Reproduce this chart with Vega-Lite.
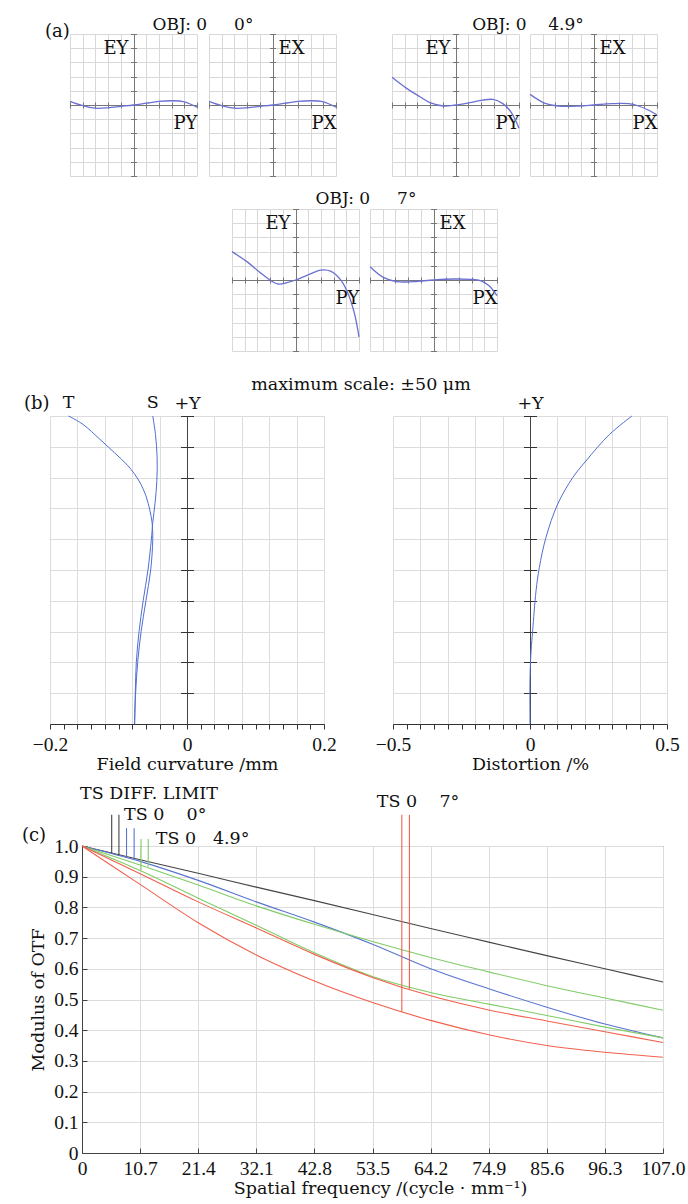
{
  "$schema": "https://vega.github.io/schema/vega-lite/v6.json",
  "padding": 0,
  "autosize": {"type": "pad"},
  "background": "white",
  "spacing": 0,
  "datasets": {
    "ey0": [{"p":-1,"e":0.05},{"p":-0.8,"e":-0.01},{"p":-0.6,"e":-0.045},{"p":-0.4,"e":-0.04},{"p":-0.2,"e":-0.02},{"p":0,"e":0},{"p":0.2,"e":0.025},{"p":0.4,"e":0.05},{"p":0.6,"e":0.06},{"p":0.8,"e":0.045},{"p":1,"e":-0.03}],
    "ex0": [{"p":-1,"e":0.05},{"p":-0.8,"e":-0.01},{"p":-0.6,"e":-0.045},{"p":-0.4,"e":-0.04},{"p":-0.2,"e":-0.02},{"p":0,"e":0},{"p":0.2,"e":0.025},{"p":0.4,"e":0.05},{"p":0.6,"e":0.06},{"p":0.8,"e":0.045},{"p":1,"e":-0.03}],
    "ey49": [{"p":-1,"e":0.39},{"p":-0.77,"e":0.234},{"p":-0.56,"e":0.117},{"p":-0.4,"e":0.033},{"p":-0.19,"e":-0.014},{"p":0,"e":0},{"p":0.22,"e":0.033},{"p":0.43,"e":0.07},{"p":0.59,"e":0.079},{"p":0.74,"e":0.023},{"p":0.85,"e":-0.07},{"p":0.93,"e":-0.187},{"p":1,"e":-0.327}],
    "ex49": [{"p":-1,"e":0.15},{"p":-0.76,"e":0.023},{"p":-0.55,"e":-0.014},{"p":-0.23,"e":-0.014},{"p":0,"e":0},{"p":0.29,"e":0.019},{"p":0.55,"e":0.019},{"p":0.71,"e":-0.014},{"p":0.86,"e":-0.07},{"p":1,"e":-0.14}],
    "ey7": [{"p":-1,"e":0.4},{"p":-0.75,"e":0.248},{"p":-0.54,"e":0.093},{"p":-0.28,"e":-0.056},{"p":-0.12,"e":-0.033},{"p":0,"e":0},{"p":0.19,"e":0.07},{"p":0.4,"e":0.14},{"p":0.56,"e":0.121},{"p":0.72,"e":-0.009},{"p":0.83,"e":-0.196},{"p":0.93,"e":-0.477},{"p":1,"e":-0.8}],
    "ex7": [{"p":-1,"e":0.187},{"p":-0.79,"e":0.037},{"p":-0.58,"e":-0.023},{"p":-0.32,"e":-0.023},{"p":0,"e":0},{"p":0.32,"e":0.014},{"p":0.58,"e":0.009},{"p":0.74,"e":-0.009},{"p":0.87,"e":-0.079},{"p":1,"e":-0.22}],
    "fc": [
      {"s":"T","f":1.0,"x":-0.173},{"s":"T","f":0.973,"x":-0.152},{"s":"T","f":0.924,"x":-0.127},{"s":"T","f":0.881,"x":-0.106},{"s":"T","f":0.838,"x":-0.086},{"s":"T","f":0.789,"x":-0.07},{"s":"T","f":0.741,"x":-0.06},{"s":"T","f":0.692,"x":-0.054},{"s":"T","f":0.654,"x":-0.051},{"s":"T","f":0.6,"x":-0.05},{"s":"T","f":0.5,"x":-0.053},{"s":"T","f":0.4,"x":-0.06},{"s":"T","f":0.3,"x":-0.067},{"s":"T","f":0.2,"x":-0.072},{"s":"T","f":0.1,"x":-0.075},{"s":"T","f":0.0,"x":-0.0765},
      {"s":"S","f":1.0,"x":-0.05},{"s":"S","f":0.94,"x":-0.046},{"s":"S","f":0.865,"x":-0.0436},{"s":"S","f":0.79,"x":-0.044},{"s":"S","f":0.72,"x":-0.0465},{"s":"S","f":0.654,"x":-0.05},{"s":"S","f":0.6,"x":-0.052},{"s":"S","f":0.5,"x":-0.057},{"s":"S","f":0.4,"x":-0.064},{"s":"S","f":0.3,"x":-0.07},{"s":"S","f":0.2,"x":-0.074},{"s":"S","f":0.1,"x":-0.0755},{"s":"S","f":0.0,"x":-0.0765}
    ],
    "dist": [{"f":0,"x":0},{"f":0.151,"x":0.0},{"f":0.238,"x":0.004},{"f":0.303,"x":0.0097},{"f":0.432,"x":0.022},{"f":0.508,"x":0.034},{"f":0.605,"x":0.058},{"f":0.714,"x":0.101},{"f":0.8,"x":0.156},{"f":0.854,"x":0.204},{"f":0.94,"x":0.29},{"f":1.0,"x":0.372}],
    "mtf": [
      {"c":"diff","id":"d","f":0,"m":1},{"c":"diff","id":"d","f":10.7,"m":0.955},{"c":"diff","id":"d","f":21.4,"m":0.911},{"c":"diff","id":"d","f":32.1,"m":0.866},{"c":"diff","id":"d","f":42.8,"m":0.822},{"c":"diff","id":"d","f":53.5,"m":0.777},{"c":"diff","id":"d","f":64.2,"m":0.731},{"c":"diff","id":"d","f":74.9,"m":0.687},{"c":"diff","id":"d","f":85.6,"m":0.643},{"c":"diff","id":"d","f":96.3,"m":0.6},{"c":"diff","id":"d","f":107,"m":0.557},
      {"c":"blue","id":"b","f":0,"m":1},{"c":"blue","id":"b","f":10.7,"m":0.95},{"c":"blue","id":"b","f":21.4,"m":0.888},{"c":"blue","id":"b","f":32.1,"m":0.818},{"c":"blue","id":"b","f":42.8,"m":0.752},{"c":"blue","id":"b","f":53.5,"m":0.68},{"c":"blue","id":"b","f":64.2,"m":0.6},{"c":"blue","id":"b","f":74.9,"m":0.535},{"c":"blue","id":"b","f":85.6,"m":0.475},{"c":"blue","id":"b","f":96.3,"m":0.42},{"c":"blue","id":"b","f":107,"m":0.375},
      {"c":"green","id":"g1","f":0,"m":1},{"c":"green","id":"g1","f":10.7,"m":0.938},{"c":"green","id":"g1","f":21.4,"m":0.873},{"c":"green","id":"g1","f":32.1,"m":0.805},{"c":"green","id":"g1","f":42.8,"m":0.745},{"c":"green","id":"g1","f":53.5,"m":0.689},{"c":"green","id":"g1","f":64.2,"m":0.637},{"c":"green","id":"g1","f":74.9,"m":0.59},{"c":"green","id":"g1","f":85.6,"m":0.545},{"c":"green","id":"g1","f":96.3,"m":0.505},{"c":"green","id":"g1","f":107,"m":0.465},
      {"c":"green","id":"g2","f":0,"m":1},{"c":"green","id":"g2","f":10.7,"m":0.92},{"c":"green","id":"g2","f":21.4,"m":0.83},{"c":"green","id":"g2","f":32.1,"m":0.742},{"c":"green","id":"g2","f":42.8,"m":0.652},{"c":"green","id":"g2","f":53.5,"m":0.575},{"c":"green","id":"g2","f":64.2,"m":0.523},{"c":"green","id":"g2","f":74.9,"m":0.485},{"c":"green","id":"g2","f":85.6,"m":0.448},{"c":"green","id":"g2","f":96.3,"m":0.41},{"c":"green","id":"g2","f":107,"m":0.375},
      {"c":"red","id":"r1","f":0,"m":1},{"c":"red","id":"r1","f":10.7,"m":0.91},{"c":"red","id":"r1","f":21.4,"m":0.818},{"c":"red","id":"r1","f":32.1,"m":0.733},{"c":"red","id":"r1","f":42.8,"m":0.647},{"c":"red","id":"r1","f":53.5,"m":0.572},{"c":"red","id":"r1","f":64.2,"m":0.512},{"c":"red","id":"r1","f":74.9,"m":0.466},{"c":"red","id":"r1","f":85.6,"m":0.43},{"c":"red","id":"r1","f":96.3,"m":0.395},{"c":"red","id":"r1","f":107,"m":0.36},
      {"c":"red","id":"r2","f":0,"m":1},{"c":"red","id":"r2","f":10.7,"m":0.875},{"c":"red","id":"r2","f":21.4,"m":0.75},{"c":"red","id":"r2","f":32.1,"m":0.645},{"c":"red","id":"r2","f":42.8,"m":0.56},{"c":"red","id":"r2","f":53.5,"m":0.49},{"c":"red","id":"r2","f":64.2,"m":0.432},{"c":"red","id":"r2","f":74.9,"m":0.385},{"c":"red","id":"r2","f":85.6,"m":0.35},{"c":"red","id":"r2","f":96.3,"m":0.328},{"c":"red","id":"r2","f":107,"m":0.312}
    ],
    "mtfkey": [
      {"c":"diff","f":5.47,"top":1.102,"bot":0.976},{"c":"diff","f":6.8,"top":1.102,"bot":0.97},
      {"c":"blue","f":8.2,"top":1.058,"bot":0.962},{"c":"blue","f":9.6,"top":1.058,"bot":0.956},
      {"c":"green","f":10.87,"top":1.023,"bot":0.922},{"c":"green","f":12.2,"top":1.023,"bot":0.933},
      {"c":"red","f":58.9,"top":1.102,"bot":0.46},{"c":"red","f":60.3,"top":1.102,"bot":0.534}
    ],
    "mtflab": [
      {"label":"TS DIFF. LIMIT","f":-0.37,"v":1.169},
      {"label":"TS 0\u00a0\u00a0\u00a0\u00a00°","f":7.73,"v":1.101},
      {"label":"TS 0\u00a0\u00a0\u00a04.9°","f":13.6,"v":1.023},
      {"label":"TS 0\u00a0\u00a0\u00a0\u00a07°","f":54.3,"v":1.143}
    ]
  },
  "vconcat": [
    {"width": 1, "height": 15, "mark": "point", "data": {"values": []}},
    {"spacing": 0, "bounds": "flush",
     "hconcat": [
      {"width": 70, "height": 156, "mark": "point", "data": {"values": []},
       "title": {"text": "(a)", "anchor": "start", "dx": 45, "offset": -15.5, "baseline": "middle", "fontSize": 18}},
      {"width": 127, "height": 142, "data": {"name": "ey0"},
       "mark": {"type": "line", "interpolate": "catmull-rom", "color": "#6b70d2", "strokeWidth": 1.3},
       "encoding": {
         "x": {"field": "p", "type": "quantitative", "scale": {"domain": [-1, 1], "nice": false, "zero": false},
               "axis": {"values": [-1,-0.8,-0.6,-0.4,-0.2,0,0.2,0.4,0.6,0.8,1], "grid": true, "gridColor": {"condition": {"test": "datum.value == 0", "value": "#777"}, "value": "#d8d8d8"}, "labels": false, "domain": false, "tickSize": 6, "tickColor": "#777", "offset": -74, "title": "PY", "titleX": 127, "titleY": 21, "titleAlign": "right", "titleBaseline": "middle", "titleAngle": 0, "titleFontSize": 18}},
         "y": {"field": "e", "type": "quantitative", "scale": {"domain": [-1, 1], "nice": false, "zero": false},
               "axis": {"values": [-1,-0.8,-0.6,-0.4,-0.2,0,0.2,0.4,0.6,0.8,1], "grid": true, "gridColor": {"condition": {"test": "datum.value == 0", "value": "#777"}, "value": "#d8d8d8"}, "labels": false, "domain": false, "tickSize": 6, "tickColor": "#777", "offset": -66.5, "title": "EY", "titleX": -8.5, "titleY": 14, "titleAlign": "right", "titleBaseline": "middle", "titleAngle": 0, "titleFontSize": 18}}
       }},
      {"width": 12, "height": 1, "mark": "point", "data": {"values": []},
       "title": {"text": "OBJ: 0\u00a0\u00a0\u00a0\u00a0\u00a00°", "anchor": "middle", "offset": -7.5, "baseline": "middle", "fontSize": 17}},
      {"width": 127, "height": 142, "data": {"name": "ex0"},
       "mark": {"type": "line", "interpolate": "catmull-rom", "color": "#6b70d2", "strokeWidth": 1.3},
       "encoding": {
         "x": {"field": "p", "type": "quantitative", "scale": {"domain": [-1, 1], "nice": false, "zero": false},
               "axis": {"values": [-1,-0.8,-0.6,-0.4,-0.2,0,0.2,0.4,0.6,0.8,1], "grid": true, "gridColor": {"condition": {"test": "datum.value == 0", "value": "#777"}, "value": "#d8d8d8"}, "labels": false, "domain": false, "tickSize": 6, "tickColor": "#777", "offset": -74, "title": "PX", "titleX": 127, "titleY": 21, "titleAlign": "right", "titleBaseline": "middle", "titleAngle": 0, "titleFontSize": 18}},
         "y": {"field": "e", "type": "quantitative", "scale": {"domain": [-1, 1], "nice": false, "zero": false},
               "axis": {"values": [-1,-0.8,-0.6,-0.4,-0.2,0,0.2,0.4,0.6,0.8,1], "grid": true, "gridColor": {"condition": {"test": "datum.value == 0", "value": "#777"}, "value": "#d8d8d8"}, "labels": false, "domain": false, "tickSize": 6, "tickColor": "#777", "offset": -66.5, "title": "EX", "titleX": 2.5, "titleY": 14, "titleAlign": "left", "titleBaseline": "middle", "titleAngle": 0, "titleFontSize": 18}}
       }},
      {"width": 56, "height": 1, "mark": "point", "data": {"values": []}},
      {"width": 127, "height": 142, "data": {"name": "ey49"},
       "mark": {"type": "line", "interpolate": "catmull-rom", "color": "#6b70d2", "strokeWidth": 1.3},
       "encoding": {
         "x": {"field": "p", "type": "quantitative", "scale": {"domain": [-1, 1], "nice": false, "zero": false},
               "axis": {"values": [-1,-0.8,-0.6,-0.4,-0.2,0,0.2,0.4,0.6,0.8,1], "grid": true, "gridColor": {"condition": {"test": "datum.value == 0", "value": "#777"}, "value": "#d8d8d8"}, "labels": false, "domain": false, "tickSize": 6, "tickColor": "#777", "offset": -74, "title": "PY", "titleX": 127, "titleY": 21, "titleAlign": "right", "titleBaseline": "middle", "titleAngle": 0, "titleFontSize": 18}},
         "y": {"field": "e", "type": "quantitative", "scale": {"domain": [-1, 1], "nice": false, "zero": false},
               "axis": {"values": [-1,-0.8,-0.6,-0.4,-0.2,0,0.2,0.4,0.6,0.8,1], "grid": true, "gridColor": {"condition": {"test": "datum.value == 0", "value": "#777"}, "value": "#d8d8d8"}, "labels": false, "domain": false, "tickSize": 6, "tickColor": "#777", "offset": -66.5, "title": "EY", "titleX": -8.5, "titleY": 14, "titleAlign": "right", "titleBaseline": "middle", "titleAngle": 0, "titleFontSize": 18}}
       }},
      {"width": 11, "height": 1, "mark": "point", "data": {"values": []},
       "title": {"text": "OBJ: 0\u00a0\u00a0\u00a0\u00a04.9°", "anchor": "middle", "dx": 3.5, "offset": -7.5, "baseline": "middle", "fontSize": 17}},
      {"width": 127, "height": 142, "data": {"name": "ex49"},
       "mark": {"type": "line", "interpolate": "catmull-rom", "color": "#6b70d2", "strokeWidth": 1.3},
       "encoding": {
         "x": {"field": "p", "type": "quantitative", "scale": {"domain": [-1, 1], "nice": false, "zero": false},
               "axis": {"values": [-1,-0.8,-0.6,-0.4,-0.2,0,0.2,0.4,0.6,0.8,1], "grid": true, "gridColor": {"condition": {"test": "datum.value == 0", "value": "#777"}, "value": "#d8d8d8"}, "labels": false, "domain": false, "tickSize": 6, "tickColor": "#777", "offset": -74, "title": "PX", "titleX": 127, "titleY": 21, "titleAlign": "right", "titleBaseline": "middle", "titleAngle": 0, "titleFontSize": 18}},
         "y": {"field": "e", "type": "quantitative", "scale": {"domain": [-1, 1], "nice": false, "zero": false},
               "axis": {"values": [-1,-0.8,-0.6,-0.4,-0.2,0,0.2,0.4,0.6,0.8,1], "grid": true, "gridColor": {"condition": {"test": "datum.value == 0", "value": "#777"}, "value": "#d8d8d8"}, "labels": false, "domain": false, "tickSize": 6, "tickColor": "#777", "offset": -66.5, "title": "EX", "titleX": 2.5, "titleY": 14, "titleAlign": "left", "titleBaseline": "middle", "titleAngle": 0, "titleFontSize": 18}}
       }}
     ]},
    {"spacing": 0, "bounds": "flush",
     "hconcat": [
      {"width": 232, "height": 166, "mark": "point", "data": {"values": []}},
      {"width": 127, "height": 142, "data": {"name": "ey7"},
       "mark": {"type": "line", "interpolate": "catmull-rom", "color": "#6b70d2", "strokeWidth": 1.3},
       "encoding": {
         "x": {"field": "p", "type": "quantitative", "scale": {"domain": [-1, 1], "nice": false, "zero": false},
               "axis": {"values": [-1,-0.8,-0.6,-0.4,-0.2,0,0.2,0.4,0.6,0.8,1], "grid": true, "gridColor": {"condition": {"test": "datum.value == 0", "value": "#777"}, "value": "#d8d8d8"}, "labels": false, "domain": false, "tickSize": 6, "tickColor": "#777", "offset": -74, "title": "PY", "titleX": 127, "titleY": 21, "titleAlign": "right", "titleBaseline": "middle", "titleAngle": 0, "titleFontSize": 18}},
         "y": {"field": "e", "type": "quantitative", "scale": {"domain": [-1, 1], "nice": false, "zero": false},
               "axis": {"values": [-1,-0.8,-0.6,-0.4,-0.2,0,0.2,0.4,0.6,0.8,1], "grid": true, "gridColor": {"condition": {"test": "datum.value == 0", "value": "#777"}, "value": "#d8d8d8"}, "labels": false, "domain": false, "tickSize": 6, "tickColor": "#777", "offset": -66.5, "title": "EY", "titleX": -8.5, "titleY": 14, "titleAlign": "right", "titleBaseline": "middle", "titleAngle": 0, "titleFontSize": 18}}
       }},
      {"width": 11, "height": 1, "mark": "point", "data": {"values": []},
       "title": {"text": "OBJ: 0\u00a0\u00a0\u00a0\u00a0\u00a07°", "anchor": "middle", "dx": 1.5, "offset": -7, "baseline": "middle", "fontSize": 17}},
      {"width": 127, "height": 142, "data": {"name": "ex7"},
       "mark": {"type": "line", "interpolate": "catmull-rom", "color": "#6b70d2", "strokeWidth": 1.3},
       "encoding": {
         "x": {"field": "p", "type": "quantitative", "scale": {"domain": [-1, 1], "nice": false, "zero": false},
               "axis": {"values": [-1,-0.8,-0.6,-0.4,-0.2,0,0.2,0.4,0.6,0.8,1], "grid": true, "gridColor": {"condition": {"test": "datum.value == 0", "value": "#777"}, "value": "#d8d8d8"}, "labels": false, "domain": false, "tickSize": 6, "tickColor": "#777", "offset": -74, "title": "PX", "titleX": 127, "titleY": 21, "titleAlign": "right", "titleBaseline": "middle", "titleAngle": 0, "titleFontSize": 18}},
         "y": {"field": "e", "type": "quantitative", "scale": {"domain": [-1, 1], "nice": false, "zero": false},
               "axis": {"values": [-1,-0.8,-0.6,-0.4,-0.2,0,0.2,0.4,0.6,0.8,1], "grid": true, "gridColor": {"condition": {"test": "datum.value == 0", "value": "#777"}, "value": "#d8d8d8"}, "labels": false, "domain": false, "tickSize": 6, "tickColor": "#777", "offset": -66.5, "title": "EX", "titleX": 2.5, "titleY": 14, "titleAlign": "left", "titleBaseline": "middle", "titleAngle": 0, "titleFontSize": 18}}
       }}
     ]},
    {"spacing": 0, "bounds": "flush",
     "hconcat": [
      {"width": 50, "height": 368, "mark": "point", "data": {"values": []},
       "title": {"text": "(b)", "anchor": "start", "dx": 24, "offset": -6, "baseline": "middle", "fontSize": 18}},
      {"width": 274, "height": 308,
       "layer": [
         {"data": {"name": "fc"},
          "mark": {"type": "line", "interpolate": "catmull-rom", "color": "#4f6fd0", "strokeWidth": 1},
          "encoding": {
            "x": {"field": "x", "type": "quantitative", "scale": {"domain": [-0.2, 0.2], "nice": false, "zero": false},
                  "axis": {"values": [-0.2,-0.18,-0.16,-0.14,-0.12,-0.1,-0.08,-0.06,-0.04,-0.02,0,0.02,0.04,0.06,0.08,0.1,0.12,0.14,0.16,0.18,0.2],
                           "grid": true, "gridColor": {"condition": {"test": "abs(datum.value) < 1e-9", "value": "#444"}, "value": "#dcdcdc"},
                           "gridOpacity": {"condition": {"test": "abs(round(datum.value*50)) % 2 == 1", "value": 0}, "value": 1},
                           "domain": true, "domainColor": "#333", "tickSize": 5, "tickColor": "#333", "labelPadding": 6,
                           "labelExpr": "datum.value < -0.19 ? '−0.2' : datum.value > 0.19 ? '0.2' : abs(datum.value) < 1e-9 ? '0' : ''",
                           "title": "Field curvature /mm", "titlePadding": 2}},
            "y": {"field": "f", "type": "quantitative", "scale": {"domain": [0, 1], "nice": false, "zero": false},
                  "axis": {"values": [0,0.1,0.2,0.3,0.4,0.5,0.6,0.7,0.8,0.9,1], "grid": true, "gridColor": "#dcdcdc",
                           "domain": false, "labels": false, "tickSize": 13, "tickColor": "#333", "offset": -143.5,
                           "title": "+Y", "titleX": -6.5, "titleY": -13, "titleAlign": "center", "titleBaseline": "middle", "titleAngle": 0}},
            "detail": {"field": "s"},
            "order": {"field": "f", "type": "quantitative"}
          }},
         {"data": {"name": "fc"},
          "transform": [{"filter": "datum.f == 1"}],
          "mark": {"type": "text", "dy": -13, "align": "center", "baseline": "middle", "fontSize": 17.5},
          "encoding": {
            "x": {"field": "x", "type": "quantitative", "scale": {"domain": [-0.2, 0.2], "nice": false, "zero": false},
                  "axis": {"values": [-0.2,-0.18,-0.16,-0.14,-0.12,-0.1,-0.08,-0.06,-0.04,-0.02,0,0.02,0.04,0.06,0.08,0.1,0.12,0.14,0.16,0.18,0.2],
                           "grid": true, "gridColor": {"condition": {"test": "abs(datum.value) < 1e-9", "value": "#444"}, "value": "#dcdcdc"},
                           "gridOpacity": {"condition": {"test": "abs(round(datum.value*50)) % 2 == 1", "value": 0}, "value": 1},
                           "domain": true, "domainColor": "#333", "tickSize": 5, "tickColor": "#333", "labelPadding": 6,
                           "labelExpr": "datum.value < -0.19 ? '−0.2' : datum.value > 0.19 ? '0.2' : abs(datum.value) < 1e-9 ? '0' : ''",
                           "title": "Field curvature /mm", "titlePadding": 2}},
            "y": {"field": "f", "type": "quantitative", "scale": {"domain": [0, 1], "nice": false, "zero": false},
                  "axis": {"values": [0,0.1,0.2,0.3,0.4,0.5,0.6,0.7,0.8,0.9,1], "grid": true, "gridColor": "#dcdcdc",
                           "domain": false, "labels": false, "tickSize": 13, "tickColor": "#333", "offset": -143.5,
                           "title": "+Y", "titleX": -6.5, "titleY": -13, "titleAlign": "center", "titleBaseline": "middle", "titleAngle": 0}},
            "text": {"field": "s"}
          }}
       ]},
      {"width": 69, "height": 1, "mark": "point", "data": {"values": []},
       "title": {"text": "maximum scale: ±50 μm", "anchor": "middle", "dx": 2.5, "offset": 14, "baseline": "middle", "fontSize": 17.5}},
      {"width": 274, "height": 308, "data": {"name": "dist"},
       "mark": {"type": "line", "interpolate": "catmull-rom", "color": "#4f6fd0", "strokeWidth": 1},
       "encoding": {
         "x": {"field": "x", "type": "quantitative", "scale": {"domain": [-0.5, 0.5], "nice": false, "zero": false},
               "axis": {"values": [-0.5,-0.45,-0.4,-0.35,-0.3,-0.25,-0.2,-0.15,-0.1,-0.05,0,0.05,0.1,0.15,0.2,0.25,0.3,0.35,0.4,0.45,0.5],
                        "grid": true, "gridColor": {"condition": {"test": "abs(datum.value) < 1e-9", "value": "#444"}, "value": "#dcdcdc"},
                        "gridOpacity": {"condition": {"test": "abs(round(datum.value*20)) % 2 == 1", "value": 0}, "value": 1},
                        "domain": true, "domainColor": "#333", "tickSize": 5, "tickColor": "#333", "labelPadding": 6,
                        "labelExpr": "datum.value < -0.49 ? '−0.5' : datum.value > 0.49 ? '0.5' : abs(datum.value) < 1e-9 ? '0' : ''",
                        "title": "Distortion /%", "titlePadding": 2}},
         "y": {"field": "f", "type": "quantitative", "scale": {"domain": [0, 1], "nice": false, "zero": false},
               "axis": {"values": [0,0.1,0.2,0.3,0.4,0.5,0.6,0.7,0.8,0.9,1], "grid": true, "gridColor": "#dcdcdc",
                        "domain": false, "labels": false, "tickSize": 13, "tickColor": "#333", "offset": -143.5,
                        "title": "+Y", "titleX": -6.5, "titleY": -13, "titleAlign": "center", "titleBaseline": "middle", "titleAngle": 0}},
         "order": {"field": "f", "type": "quantitative"}
       }}
     ]},
    {"spacing": 0, "bounds": "flush",
     "hconcat": [
      {"width": 82, "height": 307, "mark": "point", "data": {"values": []},
       "title": {"text": "(c)", "anchor": "start", "dx": 22, "offset": -8, "baseline": "middle", "fontSize": 18}},
      {"width": 581, "height": 307,
       "view": {"stroke": "#444", "strokeWidth": 1},
       "layer": [
         {"data": {"name": "mtf"},
          "mark": {"type": "line", "interpolate": "monotone", "strokeWidth": 1.1},
          "encoding": {
            "x": {"field": "f", "type": "quantitative", "scale": {"domain": [0, 107], "nice": false, "zero": false},
                  "axis": {"values": [0,10.7,21.4,32.1,42.8,53.5,64.2,74.9,85.6,96.3,107], "grid": true, "gridColor": "#dcdcdc",
                           "domain": true, "domainColor": "#444", "tickSize": -5, "tickColor": "#444", "labelPadding": 11,
                           "labelExpr": "datum.value == 0 ? '0' : format(datum.value, '.1f')",
                           "title": "Spatial frequency /(cycle · mm⁻¹)", "titlePadding": 2, "titleX": 298}},
            "y": {"field": "m", "type": "quantitative", "scale": {"domain": [0, 1], "nice": false, "zero": false},
                  "axis": {"values": [0,0.1,0.2,0.3,0.4,0.5,0.6,0.7,0.8,0.9,1], "grid": true, "gridColor": "#dcdcdc",
                           "domain": true, "domainColor": "#444", "tickSize": -5, "tickColor": "#444", "labelPadding": 9,
                           "labelExpr": "datum.value == 0 ? '0' : format(datum.value, '.1f')",
                           "title": "Modulus of OTF", "titlePadding": 6}},
            "color": {"field": "c", "type": "nominal", "scale": {"domain": ["diff","blue","green","red"], "range": ["#444444","#5a75d0","#80cc66","#f2604e"]}, "legend": null},
            "detail": {"field": "id"}
          }},
         {"data": {"name": "mtfkey"},
          "mark": {"type": "rule", "strokeWidth": 1.1},
          "encoding": {
            "x": {"field": "f", "type": "quantitative", "scale": {"domain": [0, 107], "nice": false, "zero": false},
                  "axis": {"values": [0,10.7,21.4,32.1,42.8,53.5,64.2,74.9,85.6,96.3,107], "grid": true, "gridColor": "#dcdcdc",
                           "domain": true, "domainColor": "#444", "tickSize": -5, "tickColor": "#444", "labelPadding": 11,
                           "labelExpr": "datum.value == 0 ? '0' : format(datum.value, '.1f')",
                           "title": "Spatial frequency /(cycle · mm⁻¹)", "titlePadding": 2, "titleX": 298}},
            "y": {"field": "top", "type": "quantitative", "scale": {"domain": [0, 1], "nice": false, "zero": false},
                  "axis": {"values": [0,0.1,0.2,0.3,0.4,0.5,0.6,0.7,0.8,0.9,1], "grid": true, "gridColor": "#dcdcdc",
                           "domain": true, "domainColor": "#444", "tickSize": -5, "tickColor": "#444", "labelPadding": 9,
                           "labelExpr": "datum.value == 0 ? '0' : format(datum.value, '.1f')",
                           "title": "Modulus of OTF", "titlePadding": 6}},
            "y2": {"field": "bot"},
            "color": {"field": "c", "type": "nominal", "scale": {"domain": ["diff","blue","green","red"], "range": ["#444444","#5a75d0","#80cc66","#f2604e"]}, "legend": null}
          }},
         {"data": {"name": "mtflab"},
          "mark": {"type": "text", "align": "left", "baseline": "middle", "fontSize": 17.5},
          "encoding": {
            "x": {"field": "f", "type": "quantitative", "scale": {"domain": [0, 107], "nice": false, "zero": false},
                  "axis": {"values": [0,10.7,21.4,32.1,42.8,53.5,64.2,74.9,85.6,96.3,107], "grid": true, "gridColor": "#dcdcdc",
                           "domain": true, "domainColor": "#444", "tickSize": -5, "tickColor": "#444", "labelPadding": 11,
                           "labelExpr": "datum.value == 0 ? '0' : format(datum.value, '.1f')",
                           "title": "Spatial frequency /(cycle · mm⁻¹)", "titlePadding": 2, "titleX": 298}},
            "y": {"field": "v", "type": "quantitative", "scale": {"domain": [0, 1], "nice": false, "zero": false},
                  "axis": {"values": [0,0.1,0.2,0.3,0.4,0.5,0.6,0.7,0.8,0.9,1], "grid": true, "gridColor": "#dcdcdc",
                           "domain": true, "domainColor": "#444", "tickSize": -5, "tickColor": "#444", "labelPadding": 9,
                           "labelExpr": "datum.value == 0 ? '0' : format(datum.value, '.1f')",
                           "title": "Modulus of OTF", "titlePadding": 6}},
            "text": {"field": "label"}
          }}
       ]}
     ]}
  ],
  "config": {
    "view": {"stroke": null},
    "font": "DejaVu Serif",
    "axis": {"labelFont": "Liberation Serif", "labelFontSize": 19.5, "labelColor": "#111", "titleFont": "DejaVu Serif", "titleFontSize": 17.5, "titleFontWeight": "normal", "titleColor": "#111", "gridColor": "#dcdcdc", "gridWidth": 1, "domainColor": "#333", "tickColor": "#333", "labelOverlap": false, "labelFlush": false},
    "title": {"font": "DejaVu Serif", "fontSize": 17.5, "fontWeight": "normal", "color": "#111", "frame": "group"},
    "text": {"font": "DejaVu Serif", "fontSize": 17.5, "color": "#111"}
  }
}
